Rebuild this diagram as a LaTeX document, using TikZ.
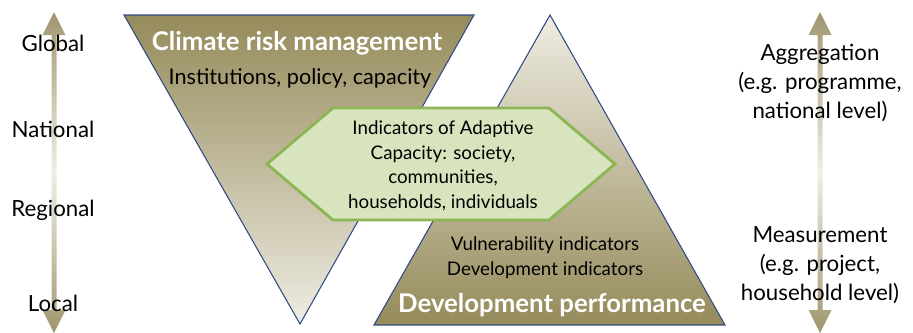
\documentclass[tikz,border=0pt]{standalone}
\usepackage{fontspec}
\setmainfont{Lato}
\usepackage{tikz}

\definecolor{darktan}{RGB}{149,139,91}
\definecolor{lighttan}{RGB}{239,236,226}
\definecolor{bartan}{RGB}{160,150,110}
\definecolor{barlight}{RGB}{240,238,230}
\definecolor{edgeblue}{RGB}{46,74,134}
\definecolor{hexfill}{RGB}{216,228,190}
\definecolor{hexgreen}{RGB}{140,182,84}

\begin{document}
\begin{tikzpicture}[x=0.03cm, y=-0.03cm,
    tri/.style={draw=edgeblue, line width=0.9pt},
    lbl/.style={font=\fontsize{19}{25}\selectfont, align=center, inner sep=0pt},
    small/.style={font=\fontsize{16}{21}\selectfont, align=center, inner sep=0pt},
    head/.style={font=\fontsize{22}{25}\selectfont\bfseries, text=white, inner sep=0pt}]
    \useasboundingbox (0,0) rectangle (913,333);

    % Scale bars
    \shade[top color=bartan, bottom color=bartan, middle color=barlight]
      (54,12) -- (65.5,35) -- (56.5,35) -- (56.5,310) -- (65.5,310) -- (54,333)
      -- (42.5,310) -- (51.5,310) -- (51.5,35) -- (42.5,35) -- cycle;
    \shade[top color=bartan, bottom color=bartan, middle color=barlight]
      (820,12) -- (831.5,35) -- (822.5,35) -- (822.5,310) -- (831.5,310) -- (820,333)
      -- (808.5,310) -- (817.5,310) -- (817.5,35) -- (808.5,35) -- cycle;

    % Triangles
    \shadedraw[tri, top color=darktan, bottom color=lighttan] (124,15) -- (474,15) -- (300,324) -- cycle;
    \shadedraw[tri, top color=lighttan, bottom color=darktan] (550,15) -- (725,325) -- (374,325) -- cycle;

    % Hexagon
    \draw[fill=hexfill, draw=hexgreen, line width=2.4pt]
      (267,164) -- (333,108) -- (549,108) -- (615,164) -- (549,220) -- (333,220) -- cycle;

    % Levels
    \node[lbl] (global) at (53,43) {Global};
    \node[lbl] (national) at (53,129) {National};
    \node[lbl] (regional) at (53,210) {Regional};
    \node[lbl] (local) at (53,303) {Local};

    \node[lbl] (aggr) at (820,83) {Aggregation\\(e.g. programme,\\national level)};
    \node[lbl] (meas) at (820,265) {Measurement\\(e.g. project,\\household level)};

    % Triangle texts
    \node[head] (crm) at (297,43) {Climate risk management};
    \node[lbl, font=\fontsize{18.5}{25}\selectfont] (inst) at (300,78) {Institutions, policy, capacity};
    \node[small] (adapt) at (443,166)
      {Indicators of Adaptive\\Capacity: society,\\communities,\\households, individuals};
    \node[small] (vuln) at (545,258) {Vulnerability indicators\\Development indicators};
    \node[head] (dev) at (552,305) {Development performance};
\end{tikzpicture}
\end{document}
